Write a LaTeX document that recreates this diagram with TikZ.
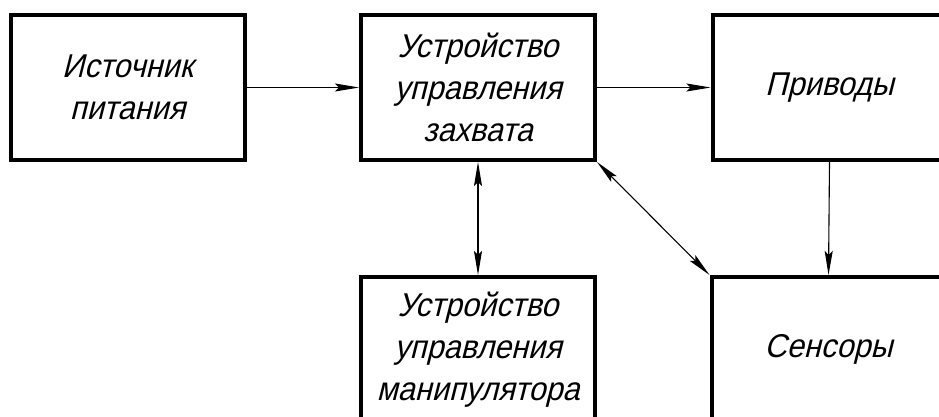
\documentclass[tikz,border=0pt]{standalone}
\usepackage{fontspec}
\newfontfamily\gost[FakeSlant=0.25,FakeStretch=0.93]{Liberation Sans}
\usetikzlibrary{arrows.meta}
\begin{document}
\begin{tikzpicture}[x=1pt,y=-1pt,
  blockbox/.style={draw,line width=4pt,minimum width=234pt,minimum height=145pt,
    inner sep=0pt,align=center,font=\gost\fontsize{33}{42}\selectfont},
  conn/.style={line width=1.1pt,-{Stealth[length=24pt,width=8pt,inset=4pt]}},
  bconn/.style={line width=1.1pt,{Stealth[length=24pt,width=8pt,inset=4pt]}-{Stealth[length=24pt,width=8pt,inset=4pt]}}]
\useasboundingbox (0,0) rectangle (939,417);
\node[blockbox] (src) at (127.5,87.5) {Источник\\питания};
\node[blockbox] (ctl) at (478,87.5) {Устройство\\управления\\захвата};
\node[blockbox] (drv) at (829.5,87.5) {Приводы};
\node[blockbox] (man) at (478,349.5) {Устройство\\управления\\манипулятора};
\node[blockbox] (sen) at (828.5,349.5) {Сенсоры};
\draw[conn] (src.east) -- (ctl.west);
\draw[conn] (ctl.east) -- (drv.west);
\draw[bconn] (ctl.south) -- (man.north);
\draw[bconn] (ctl.south east) -- (sen.north west);
\draw[conn] (drv.south) -- (sen.north);
\end{tikzpicture}
\end{document}
